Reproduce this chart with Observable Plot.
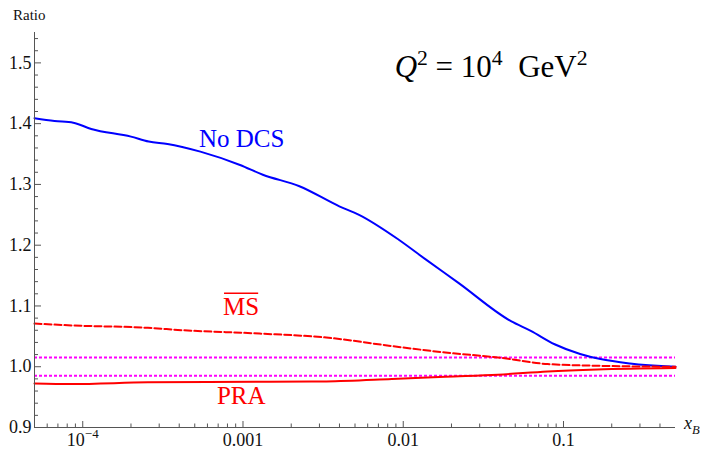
<!DOCTYPE html>
<html><head><meta charset="utf-8">
<script src="https://cdn.jsdelivr.net/npm/d3@7"></script>
<script src="https://cdn.jsdelivr.net/npm/@observablehq/plot@0.6"></script>
<style>body{margin:0;background:#fff;} #chart{width:702px;height:450px;} svg text{font-family:"Liberation Serif", Tinos, "Nimbus Roman", Times, "DejaVu Serif", serif;}</style>
</head><body><div id="chart"></div>
<script>
// ---- data ----
const noDcsX = [5e-5, 6.67e-5, 8.73e-5, 1.13e-4, 2.0e-4, 2.58e-4, 3.38e-4, 5.42e-4, 9.58e-4, 1.33e-3, 2.25e-3, 3.99e-3, 5.30e-3, 9.38e-3, 1.38e-2, 2.21e-2, 4.70e-2, 6.25e-2, 8.80e-2, 0.127, 0.170, 0.260, 0.5];
const noDcsY = [1.409, 1.4044, 1.4016, 1.3913, 1.3787, 1.3705, 1.3667, 1.354, 1.332, 1.316, 1.297, 1.264, 1.250, 1.209, 1.1766, 1.138, 1.075, 1.059, 1.037, 1.021, 1.0126, 1.0054, 1.0];
const msbarX = [5e-5, 8.49e-5, 2.55e-4, 4.25e-4, 1.27e-3, 3.31e-3, 8.49e-3, 1.83e-2, 3.90e-2, 7.96e-2, 0.162, 0.5];
const msbarY = [1.071, 1.068, 1.064, 1.060, 1.0546, 1.048, 1.034, 1.0234, 1.0152, 1.0044, 1.0016, 1.0];
const praX = [5e-5, 8.49e-5, 2.55e-4, 1.47e-3, 3.31e-3, 8.49e-3, 1.83e-2, 3.90e-2, 7.96e-2, 0.162, 0.5];
const praY = [0.9726, 0.9716, 0.9743, 0.9754, 0.9759, 0.9798, 0.9836, 0.9869, 0.9923, 0.9956, 0.998];
const bandLevels = [1.015, 0.985];

const xDomain = [5e-5, 0.5];
const yDomain = [0.9, 1.55];
const xMajor = [1e-4, 1e-3, 1e-2, 1e-1];
const xMajorLabels = ["10^-4", "0.001", "0.01", "0.1"];
const xMinor = [6e-5, 7e-5, 8e-5, 9e-5, 2e-4, 3e-4, 4e-4, 5e-4, 6e-4, 7e-4, 8e-4, 9e-4,
  2e-3, 3e-3, 4e-3, 5e-3, 6e-3, 7e-3, 8e-3, 9e-3, 2e-2, 3e-2, 4e-2, 5e-2, 6e-2, 7e-2, 8e-2, 9e-2, 0.2, 0.3, 0.4];
const yMajor = [0.9, 1.0, 1.1, 1.2, 1.3, 1.4, 1.5];
const yMajorLabels = ["0.9", "1.0", "1.1", "1.2", "1.3", "1.4", "1.5"];
const yMinor = [0.92, 0.94, 0.96, 0.98, 1.02, 1.04, 1.06, 1.08, 1.12, 1.14, 1.16, 1.18, 1.22, 1.24, 1.26, 1.28,
  1.32, 1.34, 1.36, 1.38, 1.42, 1.44, 1.46, 1.48, 1.52, 1.54];

// label anchors (data coordinates)
const labelNoDcs = {x: 5.35e-4, y: 1.361, text: "No DCS"};
const labelMs = {x: 7.56e-4, y: 1.084, text: "MS"};
const labelPra = {x: 6.93e-4, y: 0.938, text: "PRA"};
const labelQ = {x: 8.9e-3, y: 1.476};

// ---- build ----
const W = 702, H = 450, mL = 34, mR = 27, mT = 32, mB = 23;
const frameW = W - mL - mR, frameH = H - mT - mB;
const rows = (xs, ys) => xs.map((x, i) => ({x, y: ys[i]}));
const axisColor = "#555";

const plot = Plot.plot({
  width: W, height: H,
  marginLeft: mL, marginRight: mR, marginTop: mT, marginBottom: mB,
  style: {fontSize: "18px", background: "white", overflow: "visible"},
  x: {type: "log", domain: xDomain, axis: null},
  y: {domain: yDomain, axis: null},
  marks: [
    Plot.ruleY(bandLevels, {y: d => d, stroke: "#ff00ff", strokeWidth: 2, strokeDasharray: "3,2"}),
    Plot.line(rows(noDcsX, noDcsY), {x: "x", y: "y", stroke: "#0000ff", strokeWidth: 2, curve: "monotone-x"}),
    Plot.line(rows(msbarX, msbarY), {x: "x", y: "y", stroke: "#ff0000", strokeWidth: 2, strokeDasharray: "7,3", curve: "monotone-x"}),
    Plot.line(rows(praX, praY), {x: "x", y: "y", stroke: "#ff0000", strokeWidth: 2, curve: "monotone-x"}),
    Plot.ruleX([xDomain[0]], {x: d => d, stroke: axisColor, strokeWidth: 1}),
    Plot.ruleY([yDomain[0]], {y: d => d, stroke: axisColor, strokeWidth: 1}),
    Plot.tickX(xMajor, {x: d => d, insetTop: frameH - 6, stroke: axisColor}),
    Plot.tickX(xMinor, {x: d => d, insetTop: frameH - 3.5, stroke: axisColor}),
    Plot.tickY(yMajor, {y: d => d, insetRight: frameW - 7, stroke: axisColor}),
    Plot.tickY(yMinor, {y: d => d, insetRight: frameW - 4, stroke: axisColor}),
    Plot.text(xMajor, {x: d => d, y: yDomain[0], text: (d, i) => xMajorLabels[i], lineAnchor: "top", dy: 6, fill: "#111"}),
    Plot.text(yMajor, {x: xDomain[0], y: d => d, text: (d, i) => yMajorLabels[i], textAnchor: "end", dx: -3, fill: "#111"})
  ]
});
document.getElementById("chart").appendChild(plot);

const svg = d3.select(plot);
const sx = plot.scale("x"), sy = plot.scale("y");

// superscript formatting of the 10^-4 tick label
svg.selectAll("text").each(function() {
  const el = d3.select(this);
  const target = el.selectAll("tspan").empty() ? el : el.select("tspan");
  const s = target.text();
  if (s.includes("^")) {
    const [base, exp] = s.split("^");
    target.text("");
    target.append("tspan").text(base);
    target.append("tspan").text(exp.replace("-", "\u2212")).attr("font-size", 13).attr("dy", -8);
  }
});

function rich(parts, {x, y, size, fill, anchor = "start"}) {
  const t = svg.append("text").attr("x", x).attr("y", y).attr("font-size", size)
    .attr("fill", fill).attr("text-anchor", anchor);
  let shift = 0;
  for (const p of parts) {
    const ts = t.append("tspan").text(p.t);
    if (p.italic) ts.attr("font-style", "italic");
    let target = 0;
    if (p.sup) { ts.attr("font-size", size * 0.7); target = -size * 0.4; }
    if (p.sub) { ts.attr("font-size", size * 0.7); target = size * 0.3; }
    if (target !== shift) { ts.attr("dy", target - shift); shift = target; }
  }
  return t;
}

rich([{t: labelNoDcs.text}], {x: sx.apply(labelNoDcs.x), y: sy.apply(labelNoDcs.y), size: 25, fill: "#0000ff"});
const ms = rich([{t: labelMs.text}], {x: sx.apply(labelMs.x), y: sy.apply(labelMs.y), size: 25, fill: "#ff0000"});
const bb = ms.node().getBBox();
svg.append("line").attr("x1", bb.x + 1).attr("x2", bb.x + bb.width - 1)
  .attr("y1", sy.apply(labelMs.y) - 22).attr("y2", sy.apply(labelMs.y) - 22)
  .attr("stroke", "#ff0000").attr("stroke-width", 1.5);
rich([{t: labelPra.text}], {x: sx.apply(labelPra.x), y: sy.apply(labelPra.y), size: 25, fill: "#ff0000"});
rich([{t: "Q", italic: true}, {t: "2", sup: true}, {t: "\u00A0=\u00A010"}, {t: "4", sup: true}, {t: "\u00A0\u00A0GeV"}, {t: "2", sup: true}],
  {x: sx.apply(labelQ.x), y: sy.apply(labelQ.y), size: 31, fill: "#000"});

// axis titles
rich([{t: "Ratio"}], {x: sx.apply(xDomain[0]) - 21, y: sy.apply(yDomain[0]) - (sy.apply(yDomain[0]) - sy.apply(yDomain[1])) - 12, size: 15, fill: "#111"});
rich([{t: "x", italic: true}, {t: "B", italic: true, sub: true}], {x: sx.apply(xDomain[1]) + 9, y: sy.apply(yDomain[0]) + 2, size: 18, fill: "#111"});
</script>
</body></html>
